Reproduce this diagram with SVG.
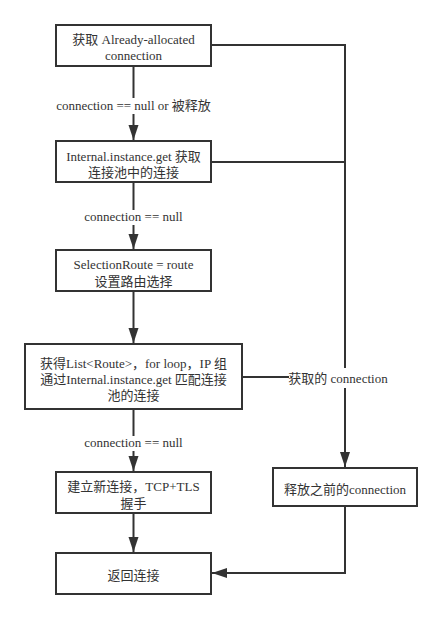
<svg xmlns="http://www.w3.org/2000/svg" width="442" height="619" viewBox="0 0 442 619">
<style>
.box{fill:#fff;stroke:#333;stroke-width:2}
.ln{fill:none;stroke:#333;stroke-width:2}
text{font-family:'Liberation Serif','Noto Sans CJK SC',serif;font-size:13px;fill:#333;text-anchor:middle}
.bg{fill:#fff;stroke:none}
</style>
<defs>
<marker id="arr" markerUnits="userSpaceOnUse" markerWidth="16" markerHeight="11" refX="15" refY="5" orient="auto">
<path d="M0,0 L15,5 L0,10 z" fill="#333"/>
</marker>
</defs>
<rect width="442" height="619" fill="#fff"/>
<g id="connectors">
<path class="ln" d="M211,45 H345 V467" marker-end="url(#arr)"/>
<path class="ln" d="M211,162 H345"/>
<path class="ln" d="M242,377 H345"/>
<path class="ln" d="M133.5,66 V140" marker-end="url(#arr)"/>
<path class="ln" d="M133.5,182 V249" marker-end="url(#arr)"/>
<path class="ln" d="M133.5,291 V343" marker-end="url(#arr)"/>
<path class="ln" d="M133.5,409 V471" marker-end="url(#arr)"/>
<path class="ln" d="M133.5,513 V552" marker-end="url(#arr)"/>
<path class="ln" d="M345,506 V573 H212" marker-end="url(#arr)"/>
<rect class="bg" x="57" y="98" width="154" height="16"/>
<text x="133.5" y="110">connection == null or 被释放</text>
<rect class="bg" x="83" y="210" width="101" height="15"/>
<text x="133.5" y="221">connection == null</text>
<rect class="bg" x="83" y="436" width="101" height="15"/>
<text x="133.5" y="447">connection == null</text>
<rect class="bg" x="289" y="368" width="98" height="20"/>
<text x="338" y="383">获取的 connection</text>
</g>
<g id="n1">
<rect class="box" x="56" y="25" width="155" height="41"/>
<text x="133.5" y="44">获取 Already-allocated</text>
<text x="133.5" y="60">connection</text>
</g>
<g id="n2">
<rect class="box" x="56" y="141" width="155" height="41"/>
<text x="133.5" y="160.5">Internal.instance.get 获取</text>
<text x="133.5" y="177">连接池中的连接</text>
</g>
<g id="n3">
<rect class="box" x="56" y="250" width="155" height="41"/>
<text x="133.5" y="269">SelectionRoute = route</text>
<text x="133.5" y="285.5">设置路由选择</text>
</g>
<g id="n4">
<rect class="box" x="25" y="344" width="217" height="65"/>
<text x="133.5" y="367.5">获得List&lt;Route&gt;，for loop，IP 组</text>
<text x="133.5" y="383.5">通过Internal.instance.get 匹配连接</text>
<text x="133.5" y="399.5">池的连接</text>
</g>
<g id="n5">
<rect class="box" x="56" y="472" width="155" height="41"/>
<text x="133.5" y="491">建立新连接，TCP+TLS</text>
<text x="133.5" y="507.5">握手</text>
</g>
<g id="n6">
<rect class="box" x="273" y="468" width="144" height="38"/>
<text x="345" y="493.5">释放之前的connection</text>
</g>
<g id="n7">
<rect class="box" x="56" y="553" width="155" height="41"/>
<text x="133.5" y="580">返回连接</text>
</g>
</svg>
